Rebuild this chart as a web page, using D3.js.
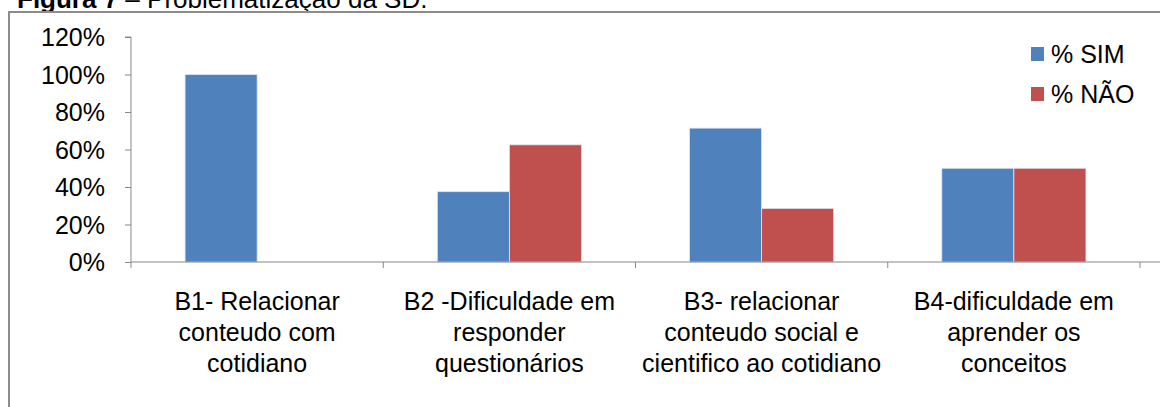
<!DOCTYPE html>
<html>
<head>
<meta charset="utf-8">
<script src="https://cdn.jsdelivr.net/npm/d3@7"></script>
<style>
  body { margin: 0; background: #fff; }
  svg { display: block; font-family: "Liberation Sans", Arial, sans-serif; }
  .axis path, .axis line { stroke: #878787; }
</style>
</head>
<body>
<div id="chart"></div>
<script>
var categories = ["B1", "B2", "B3", "B4"];
var categoryLabels = [
  ["B1- Relacionar", "conteudo com", "cotidiano"],
  ["B2 -Dificuldade em", "responder", "questionários"],
  ["B3- relacionar", "conteudo social e", "cientifico ao cotidiano"],
  ["B4-dificuldade em", "aprender os", "conceitos"]
];
var seriesNames = ["% SIM", "% NÃO"];
var seriesColors = ["#4F81BD", "#C0504D"];
var sim = [1.0, 0.375, 0.714, 0.5];
var nao = [0.0, 0.625, 0.286, 0.5];
var yTicks = [0, 0.2, 0.4, 0.6, 0.8, 1.0, 1.2];

var width = 1160, height = 407;
var svg = d3.select("#chart").append("svg")
    .attr("width", width)
    .attr("height", height);

// caption above the chart, cut off by the page top as in the source
var caption = svg.append("text")
    .attr("x", 17)
    .attr("y", 8)
    .style("font-size", "26px");
caption.append("tspan").style("font-weight", "bold").text("Figura 7");
caption.append("tspan").text(" – Problematização da SD.");

// chart frame (runs off the right and bottom)
svg.append("rect")
    .attr("x", 9)
    .attr("y", 12)
    .attr("width", 1200)
    .attr("height", 450)
    .attr("fill", "none")
    .attr("stroke", "#8c8c8c")
    .attr("stroke-width", 2);

var x0 = d3.scaleBand().domain(categories).range([131, 1140]).paddingInner(0).paddingOuter(0);
var x1 = d3.scaleBand().domain([0, 1]).range([0, x0.bandwidth()]).paddingInner(0).paddingOuter(0.75);
var y = d3.scaleLinear().domain([0, 1.2]).range([262, 37]);

// y axis
var yAxis = svg.append("g")
    .attr("class", "axis")
    .attr("transform", "translate(131,0)")
    .call(d3.axisLeft(y).tickValues(yTicks).tickSize(6).tickPadding(20)
      .tickFormat(function(d) { return Math.round(d * 100) + "%"; }));
yAxis.select(".domain").attr("d", "M-6," + y(1.2) + "H0V" + (y(0) + 6));
yAxis.selectAll("text")
    .attr("fill", "#000")
    .style("font-size", "25px")
    .attr("dy", "0.35em");

// bars
var series = [sim, nao];
var groups = svg.append("g").selectAll("g")
    .data(categories)
    .enter().append("g")
    .attr("transform", function(d) { return "translate(" + x0(d) + ",0)"; });
groups.selectAll("rect")
    .data(function(d, i) { return series.map(function(s, k) { return {k: k, v: s[i]}; }); })
    .enter().append("rect")
    .attr("x", function(d) { return x1(d.k); })
    .attr("width", x1.bandwidth())
    .attr("y", function(d) { return y(d.v); })
    .attr("height", function(d) { return y(0) - y(d.v); })
    .attr("fill", function(d) { return seriesColors[d.k]; })
    .attr("stroke", function(d) { return d.v > 0 ? "#dfe6f0" : "none"; })
    .attr("stroke-width", 0.8);

// x axis
var xAxis = svg.append("g")
    .attr("class", "axis")
    .attr("transform", "translate(0," + y(0) + ")");
xAxis.append("line")
    .attr("x1", 131).attr("x2", width)
    .attr("y1", 0).attr("y2", 0);
xAxis.selectAll(".tick")
    .data(categories.slice(1).concat(["end"]))
    .enter().append("line")
    .attr("class", "tick")
    .attr("x1", function(d) { return d === "end" ? x0.range()[1] : x0(d); })
    .attr("x2", function(d) { return d === "end" ? x0.range()[1] : x0(d); })
    .attr("y1", 0).attr("y2", 6);

var labels = svg.append("g").selectAll("text")
    .data(categories)
    .enter().append("text")
    .attr("x", function(d) { return x0(d) + x0.bandwidth() / 2; })
    .attr("y", 310)
    .attr("text-anchor", "middle")
    .style("font-size", "25px");
labels.selectAll("tspan")
    .data(function(d, i) { return categoryLabels[i]; })
    .enter().append("tspan")
    .attr("x", function() { return d3.select(this.parentNode).attr("x"); })
    .attr("dy", function(d, i) { return i === 0 ? 0 : 31; })
    .text(function(d) { return d; });

// legend
var legend = svg.append("g").selectAll("g")
    .data(seriesNames)
    .enter().append("g")
    .attr("transform", function(d, i) { return "translate(1031," + (47 + i * 40) + ")"; });
legend.append("rect")
    .attr("width", 13)
    .attr("height", 14)
    .attr("fill", function(d, i) { return seriesColors[i]; });
legend.append("text")
    .attr("x", 20)
    .attr("y", 15.5)
    .style("font-size", "25px")
    .text(function(d) { return d; });
</script>
</body>
</html>
